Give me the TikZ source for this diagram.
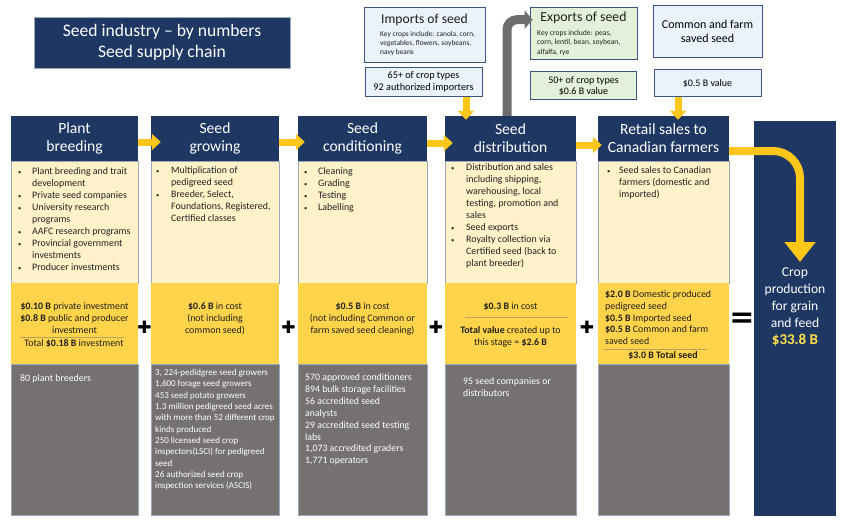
\documentclass[tikz,border=0pt]{standalone}
\usepackage{fontspec}
\setmainfont{Carlito}
\newfontfamily\symfont{DejaVu Sans}
\usetikzlibrary{arrows.meta,positioning}

\definecolor{navy}{HTML}{1F3763}
\definecolor{cream}{HTML}{FFF2C9}
\definecolor{gold}{HTML}{FFD44B}
\definecolor{slate}{HTML}{767171}
\definecolor{ylw}{HTML}{FFC61A}
\definecolor{gry}{HTML}{6D6D6D}
\definecolor{paleblue}{HTML}{EAF2FA}
\definecolor{palegreen}{HTML}{E3F0DA}
\definecolor{boxline}{HTML}{3A577F}
\definecolor{edge}{HTML}{9AA8BD}
\definecolor{seprule}{HTML}{B8A060}
\definecolor{cropy}{HTML}{FFE14A}

\newcommand{\dotmark}{{\fontsize{6.5}{6.5}\selectfont\textbullet}}

\tikzset{
  txt/.style={inner sep=0pt, text=black!88, font=\fontsize{9.9}{12}\selectfont},
  wtxt/.style={txt, text=white},
  ttlbox/.style={fill=navy, draw=edge, line width=0.4pt, text=white, align=center, inner sep=0pt,
    minimum width=256, minimum height=51, font=\fontsize{17.6}{21}\selectfont},
  hd/.style={fill=navy, text=white, align=center, inner sep=0pt, minimum height=45,
    font=\fontsize{15.6}{18}\selectfont},
  bodybox/.style={fill=cream, draw=edge, line width=0.4pt, inner sep=0pt, minimum height=122},
  costbox/.style={fill=gold, inner sep=0pt, minimum height=81},
  cntbox/.style={fill=slate, draw=edge, line width=0.5pt, inner sep=0pt, minimum height=151},
  pbox/.style={fill=paleblue, draw=boxline, line width=0.7pt, inner sep=0pt},
  gbox/.style={fill=palegreen, draw=boxline, line width=0.7pt, inner sep=0pt},
  sepline/.style={draw=seprule, line width=0.6pt},
  plus/.style={inner sep=0pt, font=\symfont\fontsize{17}{17}\selectfont},
  eqsign/.style={inner sep=0pt, font=\symfont\bfseries\fontsize{30}{30}\selectfont},
  flow/.style={draw=ylw, line width=7pt, -{Triangle[length=9pt,width=16pt]}},
  bigflow/.style={draw=ylw, line width=8pt, rounded corners=27pt, -{Triangle[length=20pt,width=30pt]}},
  exflow/.style={draw=gry, line width=9pt, rounded corners=10pt, -{Triangle[length=8pt,width=18pt]}}
}

\begin{document}
\begin{tikzpicture}[x=1pt,y=-1pt]
\useasboundingbox (0,0) rectangle (860,523);

% title
\node[ttlbox] (ttl) at (162,42.5) {Seed industry -- by numbers\\Seed supply chain};

% columns
\foreach \i/\cx/\w in {1/74.5/127,2/215/128,3/362.5/129,4/510.5/131,5/663.5/131}{
  \node[bodybox, minimum width=\w] (b\i) at (\cx,222) {};
  \node[costbox, minimum width=\w] (c\i) at (\cx,323.5) {};
  \node[cntbox, minimum width=\w] (n\i) at (\cx,439.5) {};
}
\node[hd, minimum width=127] (h1) at (74.5,138.5) {Plant\\breeding};
\node[hd, minimum width=128] (h2) at (215,138.5) {Seed\\growing};
\node[hd, minimum width=129] (h3) at (362.5,138.5) {Seed\\conditioning};
\node[hd, minimum width=131] (h4) at (510.5,138.5) {Seed\\distribution};
\node[hd, minimum width=131] (h5) at (663.5,138.5) {Retail sales to\\Canadian farmers};

% crop production
\node[fill=navy, inner sep=0pt, minimum width=82, minimum height=395] (crop) at (795,318.5) {};
\node[wtxt, font=\fontsize{13.6}{17}\selectfont] (cropt) at (795,307) {\begin{tabular}{@{}c@{}}Crop\\production\\for grain\\and feed\\
  {\fontsize{15}{17}\selectfont\bfseries\color{cropy}\$33.8 B}\end{tabular}};
\coordinate (croptip) at (800,262);

% activities
\node[txt, anchor=north west] (b1t) at (18,166) {\begin{tabular}{@{}p{14pt}@{}l@{}}
  \dotmark & Plant breeding and trait\\ & development\\
  \dotmark & Private seed companies\\
  \dotmark & University research\\ & programs\\
  \dotmark & AAFC research programs\\
  \dotmark & Provincial government\\ & investments\\
  \dotmark & Producer investments\end{tabular}};
\node[txt, anchor=north west] (b2t) at (156,165) {\begin{tabular}{@{}p{15pt}@{}l@{}}
  \dotmark & Multiplication of\\ & pedigreed seed\\
  \dotmark & Breeder, Select,\\ & Foundations, Registered,\\ & Certified classes\end{tabular}};
\node[txt, anchor=north west] (b3t) at (304,166) {\begin{tabular}{@{}p{14pt}@{}l@{}}
  \dotmark & Cleaning\\ \dotmark & Grading\\ \dotmark & Testing\\ \dotmark & Labelling\end{tabular}};
\node[txt, anchor=north west] (b4t) at (451,162) {\begin{tabular}{@{}p{15pt}@{}l@{}}
  \dotmark & Distribution and sales\\ & including shipping,\\ & warehousing, local\\
  & testing, promotion and\\ & sales\\
  \dotmark & Seed exports\\
  \dotmark & Royalty collection via\\ & Certified seed (back to\\ & plant breeder)\end{tabular}};
\node[txt, anchor=north west] (b5t) at (607,165) {\begin{tabular}{@{}p{12pt}@{}l@{}}
  \dotmark & Seed sales to Canadian\\ & farmers (domestic and\\ & imported)\end{tabular}};

% money
\node[txt] (c1t) at (74.5,319) {\begin{tabular}{@{}c@{}}\textbf{\$0.10 B} private investment\\
  \textbf{\$0.8 B} public and producer\\investment\end{tabular}};
\draw[sepline] (20,337) -- (124,337);
\node[txt] (c1s) at (74,343.5) {Total \textbf{\$0.18 B} investment};
\node[txt] (c2t) at (215,319) {\begin{tabular}{@{}c@{}}\textbf{\$0.6 B} in cost\\(not including\\common seed)\end{tabular}};
\node[txt] (c3t) at (362.5,319) {\begin{tabular}{@{}c@{}}\textbf{\$0.5 B} in cost\\(not including Common or\\farm saved seed cleaning)\end{tabular}};
\node[txt] (c4t) at (510.5,307) {\textbf{\$0.3 B} in cost};
\draw[sepline] (465,317) -- (568,317);
\node[txt] (c4s) at (510.5,337) {\begin{tabular}{@{}c@{}}\textbf{Total value} created up to\\this stage = \textbf{\$2.6 B}\end{tabular}};
\node[txt, anchor=north west, font=\fontsize{9.9}{11.8}\selectfont] (c5t) at (605,289) {\begin{tabular}{@{}l@{}}
  \textbf{\$2.0 B} Domestic produced\\pedigreed seed\\\textbf{\$0.5 B} Imported seed\\
  \textbf{\$0.5 B} Common and farm\\saved seed\end{tabular}};
\draw[sepline] (603,349) -- (707,349);
\node[txt, font=\fontsize{9.9}{11.8}\selectfont] (c5s) at (663,356) {\textbf{\$3.0 B Total seed}};

% counts
\node[wtxt, anchor=west] (n1t) at (20,379) {80 plant breeders};
\node[wtxt, anchor=north west, font=\fontsize{9}{11.3}\selectfont] (n2t) at (155,367.5) {\begin{tabular}{@{}l@{}}
  3, 224-pedidgree seed growers\\1,600 forage seed growers\\453 seed potato growers\\
  1.3 million pedigreed seed acres\\with more than 52 different crop\\kinds produced\\
  250 licensed seed crop\\inspectors(LSCI) for pedigreed\\seed\\
  26 authorized seed crop\\inspection services (ASCIS)\end{tabular}};
\node[wtxt, anchor=north west, font=\fontsize{9.8}{11.9}\selectfont] (n3t) at (305,372) {\begin{tabular}{@{}l@{}}
  570 approved conditioners\\894 bulk storage facilities\\56 accredited seed\\analysts\\
  29 accredited seed testing\\labs\\1,073 accredited graders\\1,771 operators\end{tabular}};
\node[wtxt, anchor=north west] (n4t) at (463,376) {\begin{tabular}{@{}l@{}}95 seed companies or\\distributors\end{tabular}};

% imports, exports, common seed
\node[pbox, minimum width=121, minimum height=55] (im) at (424.5,34.5) {};
\node[txt, font=\fontsize{13.6}{15}\selectfont] (imt) at (424.5,20) {Imports of seed};
\node[txt, anchor=north west, font=\fontsize{7.4}{9}\selectfont] (iml) at (380,29.5) {\begin{tabular}{@{}l@{}}
  Key crops include: canola, corn,\\vegetables, flowers, soybeans,\\navy beans\end{tabular}};
\node[pbox, minimum width=117, minimum height=29, below=5pt of im, xshift=-1pt,
  font=\fontsize{10.2}{12}\selectfont, align=center] (im65) {65+ of crop types\\92 authorized importers};

\node[gbox, minimum width=107, minimum height=52] (ex) at (583.5,33) {};
\node[txt, font=\fontsize{13.8}{15}\selectfont] (ext) at (583.5,18) {Exports of seed};
\node[txt, anchor=north west, font=\fontsize{7.6}{9.5}\selectfont] (exl) at (537,28.5) {\begin{tabular}{@{}l@{}}
  Key crops include: peas,\\corn, lentil, bean, soybean,\\alfalfa, rye\end{tabular}};
\node[gbox, minimum width=106, minimum height=28, below=12pt of ex,
  font=\fontsize{10}{11}\selectfont, align=center] (ex50) {50+ of crop types\\\$0.6 B value};

\node[pbox, minimum width=109, minimum height=52, font=\fontsize{12}{14}\selectfont, align=center]
  (cs) at (707.5,31) {Common and farm\\saved seed};
\node[pbox, minimum width=107, minimum height=27, below=12pt of cs,
  font=\fontsize{10}{11}\selectfont] (cs5) {\$0.5 B value};

% arrows
\draw[flow, shorten >=-10pt] (h1.east |- 0,142) -- (h2.west |- 0,142);
\draw[flow, shorten >=-7pt] (h2.east |- 0,142) -- (h3.west |- 0,142);
\draw[flow, shorten >=-8pt] (h3.east |- 0,143) -- (h4.west |- 0,143);
\draw[flow, shorten >=-4pt] (h4.east |- 0,145) -- (h5.west |- 0,145);
\draw[flow, shorten >=-4pt] (im65.south -| 466,0) -- (h4.north -| 466,0);
\draw[flow, shorten >=-4pt] (cs5.south -| 678,0) -- (h5.north -| 678,0);
\draw[exflow] ([xshift=-3.5pt]h4.north) |- ([xshift=3pt,yshift=-13pt]ex.north west);
\draw[bigflow] (h5.east |- 0,151) -| (croptip);

% operators
\node[plus] (p1) at (144.5,327) {✚};
\node[plus] (p2) at (288.5,327) {✚};
\node[plus] (p3) at (436,327) {✚};
\node[plus] (p4) at (587,327) {✚};
\node[eqsign] (eq) at (742,320) {=};
\end{tikzpicture}
\end{document}
